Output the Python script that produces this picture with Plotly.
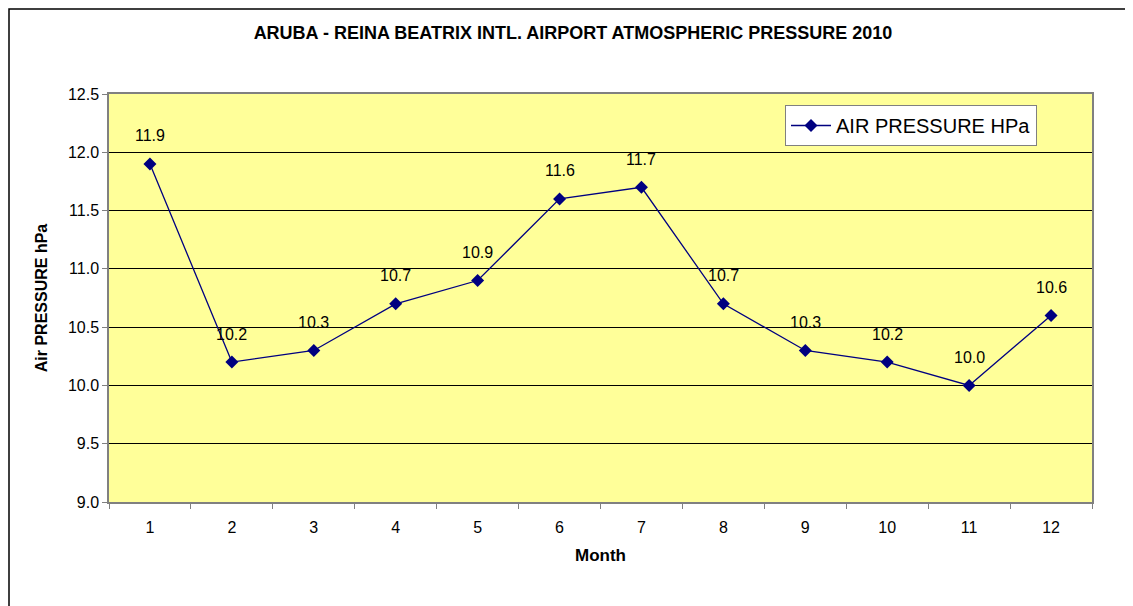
import plotly.graph_objects as go

months = ["1", "2", "3", "4", "5", "6", "7", "8", "9", "10", "11", "12"]
pressure = [11.9, 10.2, 10.3, 10.7, 10.9, 11.6, 11.7, 10.7, 10.3, 10.2, 10.0, 10.6]
y_ticks = [9.0, 9.5, 10.0, 10.5, 11.0, 11.5, 12.0, 12.5]

FONT = "Liberation Sans, Arial, sans-serif"
NAVY = "#000080"
OFF = 8  # page body margin

fig = go.Figure()
fig.add_trace(go.Scatter(
    x=months, y=pressure, mode="lines+markers",
    name="AIR PRESSURE HPa",
    line=dict(color=NAVY, width=1.3),
    marker=dict(symbol="diamond", size=10, color=NAVY),
))

annotations = [
    dict(x=i, y=v, text=f"{v:.1f}", showarrow=False, yshift=28,
         font=dict(family=FONT, size=16, color="black"), xref="x", yref="y")
    for i, v in enumerate(pressure)
]

W, H = 1133 - OFF, 606 - OFF
L, R, T, B = 109 - OFF, 41, 94 - OFF, 104
pw, ph = W - L - R, H - T - B

fig.update_layout(
    width=W, height=H,
    margin=dict(l=L, r=R, t=T, b=B),
    paper_bgcolor="white",
    plot_bgcolor="#FFFF99",
    font=dict(family=FONT, size=16, color="black"),
    title=dict(text="<b>ARUBA - REINA BEATRIX INTL. AIRPORT ATMOSPHERIC PRESSURE 2010</b>",
               x=(573 - OFF) / W, xanchor="center", y=1 - (33 - OFF) / H, yanchor="middle",
               font=dict(family=FONT, size=18)),
    showlegend=True,
    legend=dict(x=(785 - 109) / pw, y=(502 - 105) / ph, xanchor="left", yanchor="top",
                bgcolor="white", bordercolor="#808080", borderwidth=1,
                font=dict(family=FONT, size=20), itemwidth=40, tracegroupgap=0),
    annotations=annotations,
    xaxis=dict(
        type="category", tickson="boundaries", ticks="outside", ticklen=5,
        tickcolor="#808080", showline=True, linecolor="#808080", linewidth=1.5,
        mirror=True, showgrid=False, range=[-0.5, 11.5], ticklabelstandoff=10,
        title=dict(text="<b>Month</b>", standoff=14, font=dict(family=FONT, size=17)),
        tickfont=dict(family=FONT, size=16),
    ),
    yaxis=dict(
        range=[9.0, 12.5], tickvals=y_ticks, tickformat=".1f",
        ticks="outside", ticklen=5, tickcolor="#808080",
        showline=True, linecolor="#808080", linewidth=1.5, mirror=True,
        showgrid=True, gridcolor="black", gridwidth=1,
        title=dict(text="<b>Air PRESSURE hPa</b>", standoff=16, font=dict(family=FONT, size=16)),
        tickfont=dict(family=FONT, size=16),
    ),
    shapes=[dict(type="rect", xref="paper", yref="paper",
                 x0=(1 - L) / pw, x1=(W + 5 - L) / pw,
                 y0=(-B - 5) / ph, y1=(ph + T - 1) / ph,
                 line=dict(color="black", width=1.5), fillcolor="rgba(0,0,0,0)", layer="below")],
)

fig.write_html("out.html")
